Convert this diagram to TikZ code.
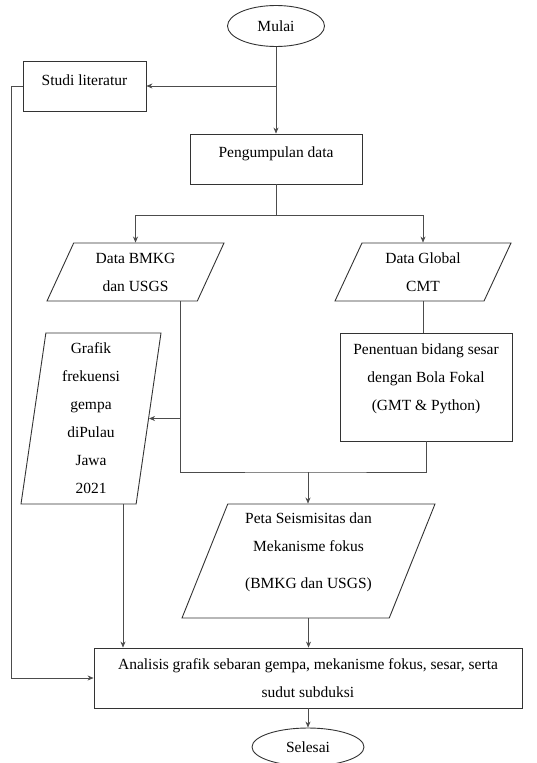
\documentclass[tikz,border=0pt]{standalone}
\usepackage{fontspec}
\setmainfont{Liberation Serif}
\usetikzlibrary{arrows.meta,shapes.geometric}
\tikzset{
  fcblock/.style={draw=black!80, rectangle, line width=.9pt, align=center, inner sep=3pt},
  fcdata/.style={draw=black!80, trapezium, trapezium stretches body=true, line width=.9pt, align=center, inner sep=3pt},
  fcterm/.style={draw=black!80, ellipse, line width=.9pt, inner sep=1pt},
  fcwire/.style={draw=black!70, line width=.6pt, >={Stealth[length=6pt,width=5pt]}}
}

\begin{document}
\begin{tikzpicture}[x=1pt, y=-1pt, font=\fontsize{15.5}{28}\selectfont]
    \useasboundingbox (0,0) rectangle (536,763);
    \node[fcterm, minimum width=97, minimum height=41] (mulai) at (276,26) {Mulai};
    \node[fcblock, minimum width=123, minimum height=50, text depth=12pt] (studi) at (84.5,86) {Studi literatur};
    \node[fcblock, minimum width=172, minimum height=50, text depth=13pt] (kumpul) at (276,159) {Pengumpulan data};
    \node[fcdata, trapezium left angle=59, trapezium right angle=121, minimum width=177, minimum height=58] (bmkg) at (135.5,272) {Data BMKG\\dan USGS};
    \node[fcdata, trapezium left angle=59, trapezium right angle=121, minimum width=176, minimum height=58] (cmt) at (423,272) {Data Global\\CMT};
    \node[fcdata, trapezium left angle=81, trapezium right angle=99, minimum width=140, minimum height=171] (grafik) at (91,418.5) {Grafik\\frekuensi\\gempa\\diPulau\\Jawa\\2021};
    \node[fcblock, minimum width=172, minimum height=108, text depth=19pt] (bola) at (426,387) {Penentuan bidang sesar\\dengan Bola Fokal\\(GMT \& Python)};
    \node[fcdata, trapezium left angle=66, trapezium right angle=114, minimum width=253, minimum height=114, text depth=21pt] (peta) at (308.5,561) {Peta Seismisitas dan\\Mekanisme fokus\\[9pt](BMKG dan USGS)};
    \node[fcblock, minimum width=428, minimum height=60] (analisis) at (308,678) {Analisis grafik sebaran gempa, mekanisme fokus, sesar, serta\\sudut subduksi};
    \node[fcterm, minimum width=112, minimum height=38] (selesai) at (308,747) {Selesai};
    \coordinate (split) at (276,215);
    \coordinate (merge) at (308,472);
    % alur utama
    \draw[fcwire,->] (mulai.south) -- (kumpul.north);
    \draw[fcwire,->] (mulai.south |- studi.east) -- (studi.east);
    \draw[fcwire] (kumpul.south) -- (split);
    \draw[fcwire,->] (split) -| (bmkg.north);
    \draw[fcwire,->] (split) -| (cmt.north);
    \draw[fcwire] (cmt.south) -- (cmt.south |- bola.north);
    \draw[fcwire] ([xshift=45]bmkg.south) |- (merge) -| (bola.south);
    \draw[fcwire,->] ([xshift=45]bmkg.south |- grafik.east) -- (grafik.east);
    \draw[fcwire,->] (merge) -- (merge |- peta.north);
    \draw[fcwire,->] ([xshift=32]grafik.south) -- ([xshift=32]grafik.south |- analisis.north);
    \draw[fcwire,->] (peta.south) -- (peta.south |- analisis.north);
    \draw[fcwire,->] (studi.west) -- ++(-11,0) |- (analisis.west);
    \draw[fcwire,->] (analisis.south) -- (selesai.north);
\end{tikzpicture}
\end{document}
